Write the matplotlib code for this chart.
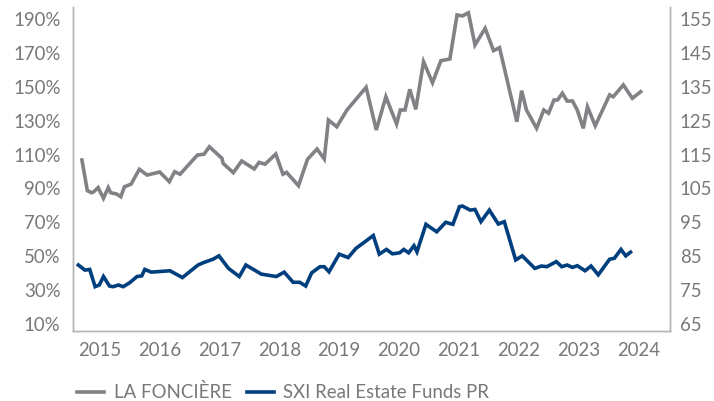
import matplotlib
matplotlib.use("Agg")
import matplotlib.pyplot as plt

plt.rcParams['font.family'] = ['Lato', 'DejaVu Sans']

# LA FONCIÈRE (left axis, %)
fonciere_t = [2014.70, 2014.79, 2014.86, 2014.90, 2014.97, 2015.06, 2015.14, 2015.18, 2015.28, 2015.35,
              2015.41, 2015.52, 2015.66, 2015.79, 2016.00, 2016.16, 2016.25, 2016.34, 2016.63, 2016.74,
              2016.83, 2017.04, 2017.06, 2017.23, 2017.37, 2017.58, 2017.66, 2017.76, 2017.94, 2018.06,
              2018.12, 2018.32, 2018.47, 2018.63, 2018.75, 2018.82, 2018.96, 2019.13, 2019.45, 2019.62,
              2019.78, 2019.96, 2020.02, 2020.10, 2020.18, 2020.28, 2020.41, 2020.56, 2020.70, 2020.85,
              2020.97, 2021.06, 2021.16, 2021.27, 2021.44, 2021.58, 2021.68, 2021.97, 2022.05, 2022.13,
              2022.30, 2022.42, 2022.50, 2022.59, 2022.65, 2022.73, 2022.81, 2022.90, 2022.98, 2023.08,
              2023.15, 2023.28, 2023.52, 2023.58, 2023.75, 2023.90, 2024.04]
fonciere_v = [106.8, 88.7, 87.5, 88.1, 90.5, 84.2, 90.5, 87.5, 86.7, 85.1,
              91.0, 92.5, 101.3, 97.9, 99.7, 94.0, 99.9, 98.4, 109.7, 110.2,
              114.6, 107.8, 104.8, 99.3, 106.2, 101.5, 105.4, 104.3, 110.3, 98.4,
              99.5, 91.6, 107.2, 113.3, 107.4, 130.4, 126.4, 136.3, 149.7, 124.5,
              144.1, 128.0, 136.3, 136.3, 148.5, 136.7, 164.8, 152.4, 165.4, 166.4,
              192.4, 191.8, 193.7, 174.7, 184.5, 171.3, 173.1, 129.4, 147.7, 136.3,
              125.5, 136.3, 134.4, 142.2, 142.2, 146.2, 141.6, 141.6, 136.3, 125.5,
              138.2, 127.0, 145.2, 144.1, 151.1, 143.2, 147.1]

# SXI Real Estate Funds PR (right axis)
sxi_t = [2014.64, 2014.75, 2014.83, 2014.92, 2014.99, 2015.06, 2015.16, 2015.22, 2015.31, 2015.39,
         2015.50, 2015.62, 2015.70, 2015.75, 2015.86, 2016.17, 2016.38, 2016.64, 2016.73, 2016.89,
         2016.99, 2017.15, 2017.33, 2017.44, 2017.70, 2017.95, 2018.08, 2018.23, 2018.34, 2018.44,
         2018.54, 2018.68, 2018.75, 2018.83, 2019.00, 2019.15, 2019.28, 2019.57, 2019.67, 2019.79,
         2019.89, 2020.01, 2020.08, 2020.16, 2020.25, 2020.30, 2020.45, 2020.63, 2020.78, 2020.90,
         2021.01, 2021.06, 2021.19, 2021.27, 2021.37, 2021.51, 2021.66, 2021.76, 2021.95, 2022.06,
         2022.27, 2022.38, 2022.47, 2022.63, 2022.72, 2022.81, 2022.90, 2022.98, 2023.11, 2023.21,
         2023.33, 2023.52, 2023.60, 2023.71, 2023.79, 2023.87]
sxi_v = [82.4, 80.9, 81.1, 76.0, 76.5, 79.0, 76.2, 76.0, 76.5, 76.0,
         77.2, 79.0, 79.2, 81.1, 80.3, 80.7, 78.7, 82.4, 83.1, 84.1,
         85.1, 81.4, 79.0, 82.4, 79.7, 79.0, 80.3, 77.3, 77.3, 76.2,
         80.1, 81.9, 81.9, 80.4, 85.6, 84.6, 87.3, 91.1, 85.6, 87.0,
         85.7, 86.0, 87.0, 86.0, 88.1, 86.3, 94.4, 92.2, 95.0, 94.4,
         99.6, 99.8, 98.6, 98.8, 95.2, 98.6, 94.5, 95.2, 83.9, 85.1,
         81.4, 82.1, 81.9, 83.4, 81.9, 82.4, 81.7, 82.2, 80.7, 82.1,
         79.5, 84.1, 84.4, 87.0, 85.1, 86.2]

years = [2015, 2016, 2017, 2018, 2019, 2020, 2021, 2022, 2023, 2024]
left_ticks = [10, 30, 50, 70, 90, 110, 130, 150, 170, 190]
right_ticks = [65, 75, 85, 95, 105, 115, 125, 135, 145, 155]

GRAY = '#808285'
BLUE = '#003f7d'
TXT = '#77787b'
SPINE = '#b3b3b3'
FS = 13.4

fig = plt.figure(figsize=(7.14, 4.01), dpi=100)
ax = fig.add_axes([0.1022, 0.1746, 0.8362, 0.8079])
ax2 = ax.twinx()

l1, = ax.plot(fonciere_t, fonciere_v, color=GRAY, lw=2.6, solid_joinstyle='miter', label='LA FONCIÈRE')
l2, = ax2.plot(sxi_t, sxi_v, color=BLUE, lw=2.6, solid_joinstyle='miter', label='SXI Real Estate Funds PR')

ax.set_xlim(2014.55, 2024.53)
ax.set_ylim(5.87, 197.08)
ax2.set_ylim(62.93, 158.54)

ax.set_xticks(years)
ax.set_xticklabels([str(y) for y in years])
ax.set_yticks(left_ticks)
ax.set_yticklabels([f'{v}%' for v in left_ticks])
ax2.set_yticks(right_ticks)
ax2.set_yticklabels([str(v) for v in right_ticks])

for a in (ax, ax2):
    a.tick_params(length=0, labelsize=FS, labelcolor=TXT)
    for s in a.spines.values():
        s.set_color(SPINE)
        s.set_linewidth(1.0)
    a.spines['top'].set_visible(False)
ax.tick_params(axis='y', pad=9)
ax.tick_params(axis='x', pad=8)
ax2.tick_params(axis='y', pad=7)

fig.legend([l1, l2], ['LA FONCIÈRE', 'SXI Real Estate Funds PR'], loc='center left',
           bbox_to_anchor=(0.098, 0.022), ncol=2, frameon=False,
           prop={'size': FS},
           handlelength=1.45, handletextpad=0.5, columnspacing=0.8, borderaxespad=0,
           labelcolor=TXT)

fig.savefig('out.png', dpi=100)
